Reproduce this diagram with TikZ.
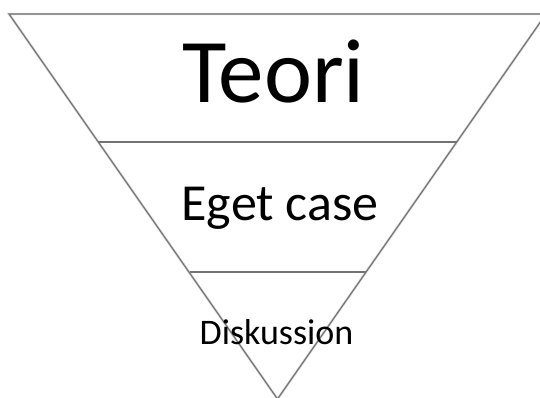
\documentclass[tikz,border=0pt]{standalone}
\usepackage{fontspec}
\setmainfont{Carlito}
\begin{document}
\begin{tikzpicture}[x=1pt,y=-1pt,
  edge/.style={draw=black!55,line width=1.1pt},
  edgeshadow/.style={draw=black!35,line width=2.4pt,opacity=0.5},
  level/.style={text=black,inner sep=0pt,anchor=base}]
\useasboundingbox (0,0) rectangle (540,398);
% corners of the funnel and the division points on its sides
\coordinate (tl) at (9,14);
\coordinate (tr) at (546,14);
\coordinate (tip) at (277.5,399);
\coordinate (l1) at (98,142);
\coordinate (r1) at (457,142);
\coordinate (l2) at (189.5,272);
\coordinate (r2) at (365.5,272);
% soft shadow below the lines
\begin{scope}[shift={(1.5,1.8)}]
  \draw[edgeshadow] (tr) -- (tl) -- (tip) -- cycle;
  \draw[edgeshadow] (l1) -- (r1);
  \draw[edgeshadow] (l2) -- (r2);
\end{scope}
% funnel outline and divisions
\draw[edge,line join=miter] (tr) -- (tl) -- (tip) -- cycle;
\draw[edge] (l1) -- (r1);
\draw[edge] (l2) -- (r2);
% level labels
\node[level,font=\fontsize{91}{91}\selectfont] (teori) at (273.5,103) {Teori};
\node[level,font=\fontsize{52}{52}\selectfont] (case) at (280,220) {Eget case};
\node[level,font=\fontsize{36}{36}\selectfont] (disk) at (276.5,344) {Diskussion};
\end{tikzpicture}
\end{document}
